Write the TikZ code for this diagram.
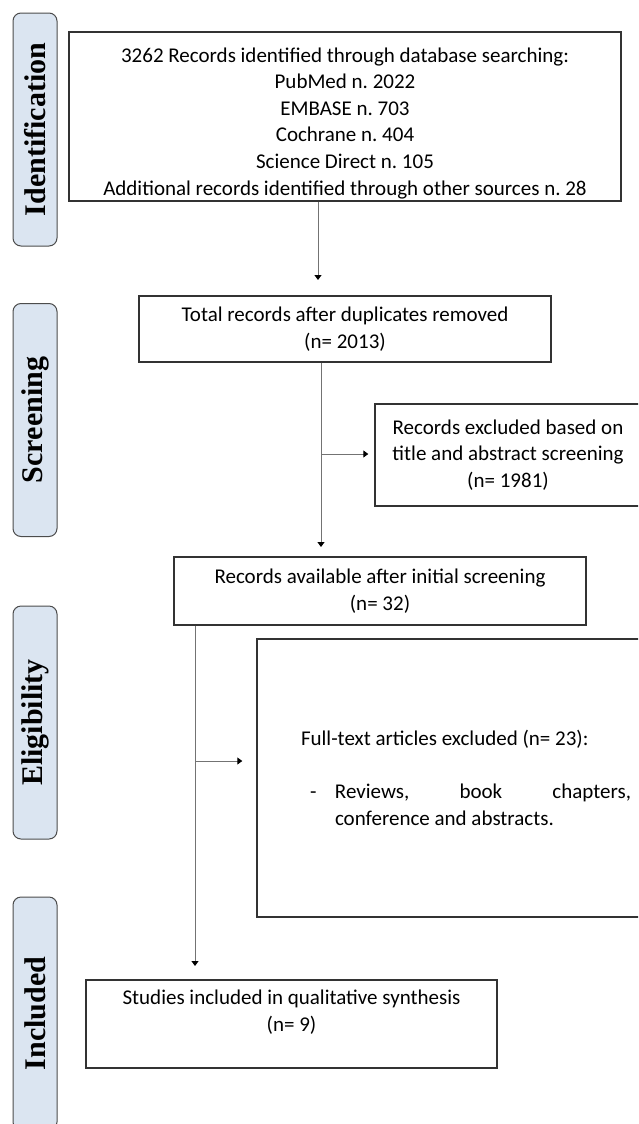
\documentclass[tikz,border=0pt]{standalone}
\usepackage{fontspec}
\setmainfont{Carlito}
\newfontfamily\phasenfont{Liberation Serif}
\usetikzlibrary{arrows.meta}
\frenchspacing

\definecolor{phasenblau}{HTML}{DBE5F1}

\begin{document}
\begin{tikzpicture}[x=0.5pt,y=-0.5pt,
		kasten/.style={draw=black!80,line width=0.7pt,align=center,inner sep=0pt,
			font=\fontsize{10.5pt}{13.3pt}\selectfont},
		phase/.style={draw=black!70,line width=0.5pt,fill=phasenblau,rounded corners=4pt,
			rotate=90,minimum width=116.5pt,minimum height=22pt,inner sep=0pt,
			font=\phasenfont\bfseries\fontsize{15pt}{18pt}\selectfont},
		pfeil/.style={draw=black!55,line width=0.5pt,
			-{Triangle[length=2.5pt,width=3.5pt,color=black]}}]
			\useasboundingbox (0,0) rectangle (638,1124);
			\clip (0,0) rectangle (638,1124);

			% Phasen am linken Rand
			\node[phase] (ident) at (35,129.5) {Identification};
			\node[phase] (screen) at (35,420) {Screening};
			\node[phase] (elig) at (35,722.5) {Eligibility};
			\node[phase] (incl) at (35,1013.5) {Included};

			% Kaesten
			\node[kasten,minimum width=276pt,minimum height=84.5pt] (quellen) at (345,116.5)
			{\rule{0pt}{14pt}3262 Records identified through database searching:\\PubMed n. 2022\\EMBASE n. 703\\
				Cochrane n. 404\\Science Direct n. 105\\Additional records identified through other sources n. 28};
			\node[kasten,minimum width=206pt,minimum height=33pt] (duplikate) at (345,329)
			{Total records after duplicates removed\\(n= 2013)};
			\node[kasten,minimum width=133pt,minimum height=51pt] (titelaus) at (508,455)
			{Records excluded based on\\title and abstract screening\\(n= 1981)};
			\node[kasten,minimum width=206pt,minimum height=34pt] (gesichtet) at (380,591)
			{Records available after initial screening\\(n= 32)};
			\node[kasten,minimum width=209pt,minimum height=139pt,text width=165pt,align=flush left] (volltext) at (466,778)
			{Full-text articles excluded (n= 23):\\[13.3pt]
				\makebox[17pt][l]{\hspace{4.5pt}-}Reviews,\hfill book\hfill chapters,\\
				\hspace*{17pt}conference and abstracts.};
			\node[kasten,minimum width=205.5pt,minimum height=44pt] (studien) at (291.5,1024)
			{Studies included in qualitative synthesis\\(n= 9)\\\mbox{}};

			% Pfeile nach unten
			\coordinate (p1) at (318,280);
			\draw[pfeil] (quellen.south -| p1) -- (p1);
			\coordinate (p2) at (321,547);
			\draw[pfeil] (duplikate.south -| p2) -- (p2);
			\coordinate (p3) at (195,966);
			\draw[pfeil] (gesichtet.south -| p3) -- (p3);

			% Abzweige zu den Ausschluessen
			\coordinate (a1) at (321,454);
			\draw[pfeil,shorten >=3pt] (a1) -- (titelaus.west |- a1);
			\coordinate (a2) at (195,761);
			\draw[pfeil,shorten >=7pt] (a2) -- (volltext.west |- a2);
		\end{tikzpicture}
\end{document}
